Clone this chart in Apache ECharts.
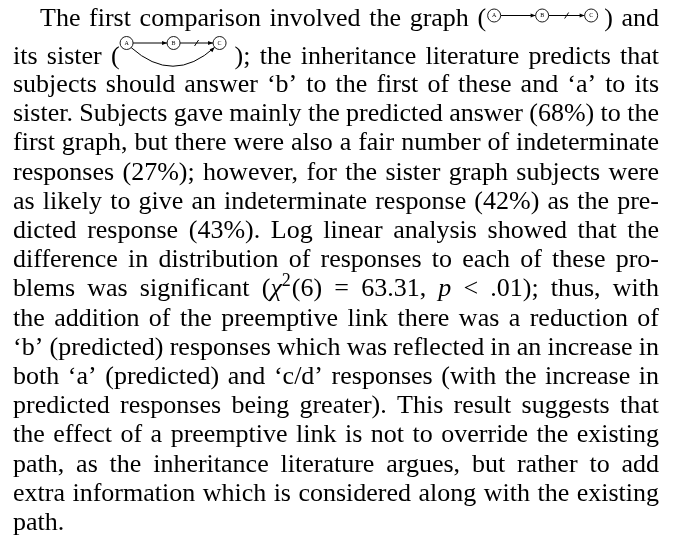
<!DOCTYPE html>
<html>
<head>
<meta charset="utf-8">
<script src="https://cdn.jsdelivr.net/npm/echarts@6/dist/echarts.min.js"></script>
<style>
html,body{margin:0;padding:0;background:#fff;}
#c{width:677px;height:537px;}
</style>
</head>
<body>
<div id="c"></div>
<script>
// Paragraph lines (text content). {D1}/{D2} = inline graphs, *x* = italic, ^x^ = superscript
const lines = [
  "The first comparison involved the graph ({D1}) and",
  "its sister ({D2}); the inheritance literature predicts that",
  "subjects should answer \u2018b\u2019 to the first of these and \u2018a\u2019 to its",
  "sister. Subjects gave mainly the predicted answer (68%) to the",
  "first graph, but there were also a fair number of indeterminate",
  "responses (27%); however, for the sister graph subjects were",
  "as likely to give an indeterminate response (42%) as the pre-",
  "dicted response (43%). Log linear analysis showed that the",
  "difference in distribution of responses to each of these pro-",
  "blems was significant (*\u03c7*^2^(6) = 63.31, *p* < .01); thus, with",
  "the addition of the preemptive link there was a reduction of",
  "\u2018b\u2019 (predicted) responses which was reflected in an increase in",
  "both \u2018a\u2019 (predicted) and \u2018c/d\u2019 responses (with the increase in",
  "predicted responses being greater). This result suggests that",
  "the effect of a preemptive link is not to override the existing",
  "path, as the inheritance literature argues, but rather to add",
  "extra information which is considered along with the existing",
  "path."
];
// Node labels of the two inline graphs
const graph1Nodes = ["A", "B", "C"];
const graph2Nodes = ["A", "B", "C"];

// ---- layout constants ----
const FS = 26;
const FAMILY = '"Liberation Serif","Times New Roman",serif';
const FONT = FS + 'px ' + FAMILY;
const FONT_IT = 'italic ' + FS + 'px ' + FAMILY;
const FONT_SUP = '18px ' + FAMILY;
const LEFT = 13, RIGHT = 659, INDENT = 27;
const COLOR = '#000';
function baselineOf(i) {
  if (i === 0) return 26;
  if (i === 1) return 64;
  return 92 + (i - 2) * 29.2;
}
const DIAG = {
  D1: { width: 118 },
  D2: { width: 115 }
};

const cv = document.createElement('canvas');
const ctx = cv.getContext('2d');
function measure(s, font) { ctx.font = font; return ctx.measureText(s).width; }

function parseWord(w) {
  const parts = w.split(/(\{D\d\}|\*[^*]+\*|\^[^^]+\^)/).filter(p => p.length);
  return parts.map(p => {
    if (/^\{D\d\}$/.test(p)) { const id = p.slice(1, -1); return { diag: id, w: DIAG[id].width }; }
    if (/^\*.*\*$/.test(p)) { const s = p.slice(1, -1); return { s, font: FONT_IT, w: measure(s, FONT_IT), dy: 0 }; }
    if (/^\^.*\^$/.test(p)) { const s = p.slice(1, -1); return { s, font: FONT_SUP, w: measure(s, FONT_SUP) + 1, dy: -10, sup: true }; }
    return { s: p, font: FONT, w: measure(p, FONT), dy: 0 };
  });
}

const elements = [];
function text(x, b, s, font) {
  ctx.font = font; ctx.textBaseline = 'middle';
  const off = ctx.measureText('H').actualBoundingBoxDescent;
  elements.push({
    type: 'text', x: x, y: b - off, silent: true,
    style: { text: s, font: font, fill: COLOR, align: 'left', verticalAlign: 'middle' }
  });
}
function circle(cx, cy, r, label) {
  elements.push({ type: 'circle', shape: { cx, cy, r }, style: { fill: '#fff', stroke: COLOR, lineWidth: 0.9 }, silent: true });
  elements.push({ type: 'text', x: cx, y: cy, silent: true,
    style: { text: label, font: '6px ' + FAMILY, fill: COLOR, align: 'center', verticalAlign: 'middle' } });
}
function line(x1, y1, x2, y2) {
  elements.push({ type: 'line', shape: { x1, y1, x2, y2 }, style: { stroke: COLOR, lineWidth: 1 }, silent: true });
}
function arrowHead(tx, ty, dx, dy) {
  const L = Math.hypot(dx, dy); dx /= L; dy /= L;
  const len = 5, hw = 2;
  const bx = tx - dx * len, by = ty - dy * len;
  elements.push({ type: 'polygon', silent: true,
    shape: { points: [[tx, ty], [bx - dy * hw, by + dx * hw], [bx + dy * hw, by - dx * hw]] },
    style: { fill: COLOR } });
}
function drawDiag(id, x0, b) {
  const r = 6.5;
  if (id === 'D1') {
    const cy = b - 10.5;
    const xs = [x0 + 8, x0 + 56, x0 + 105];
    line(xs[0] + r, cy, xs[1] - r, cy); arrowHead(xs[1] - r, cy, 1, 0);
    line(xs[1] + r, cy, xs[2] - r, cy); arrowHead(xs[2] - r, cy, 1, 0);
    const m = (xs[1] + xs[2]) / 2;
    line(m - 2, cy + 3, m + 2, cy - 3);
    xs.forEach((x, i) => circle(x, cy, r, graph1Nodes[i]));
  } else {
    const cy = b - 21;
    const xs = [x0 + 7, x0 + 54, x0 + 100];
    line(xs[0] + r, cy, xs[1] - r, cy); arrowHead(xs[1] - r, cy, 1, 0);
    line(xs[1] + r, cy, xs[2] - r, cy); arrowHead(xs[2] - r, cy, 1, 0);
    const m = (xs[1] + xs[2]) / 2;
    line(m - 2, cy + 3, m + 2, cy - 3);
    const s = [xs[0] + r * 0.7, cy + r * 0.7], e = [xs[2] - r * 0.75, cy + r * 0.66];
    const c = [(xs[0] + xs[2]) / 2, cy + 42];
    elements.push({ type: 'bezierCurve', silent: true,
      shape: { x1: s[0], y1: s[1], x2: e[0], y2: e[1], cpx1: c[0], cpy1: c[1] },
      style: { stroke: COLOR, lineWidth: 1, fill: null } });
    arrowHead(e[0], e[1], e[0] - c[0], e[1] - c[1]);
    xs.forEach((x, i) => circle(x, cy, r, graph2Nodes[i]));
  }
}

lines.forEach((ln, i) => {
  const words = ln.split(' ').map(parseWord);
  const widths = words.map(ps => ps.reduce((a, p) => a + p.w, 0));
  const start = LEFT + (i === 0 ? INDENT : 0);
  const total = widths.reduce((a, w) => a + w, 0);
  const last = i === lines.length - 1;
  const gap = last ? measure(' ', FONT) : (RIGHT - start - total) / (words.length - 1);
  const b = baselineOf(i);
  let x = start;
  words.forEach((ps, k) => {
    let px = x;
    ps.forEach(p => {
      if (p.diag) drawDiag(p.diag, px, b);
      else text(px, b + p.dy, p.s, p.font);
      px += p.w;
    });
    x += widths[k] + gap;
  });
});

const chart = echarts.init(document.getElementById('c'), null, { renderer: 'canvas' });
chart.setOption({
  backgroundColor: '#fff',
  animation: false,
  graphic: { elements: elements }
});
</script>
</body>
</html>
